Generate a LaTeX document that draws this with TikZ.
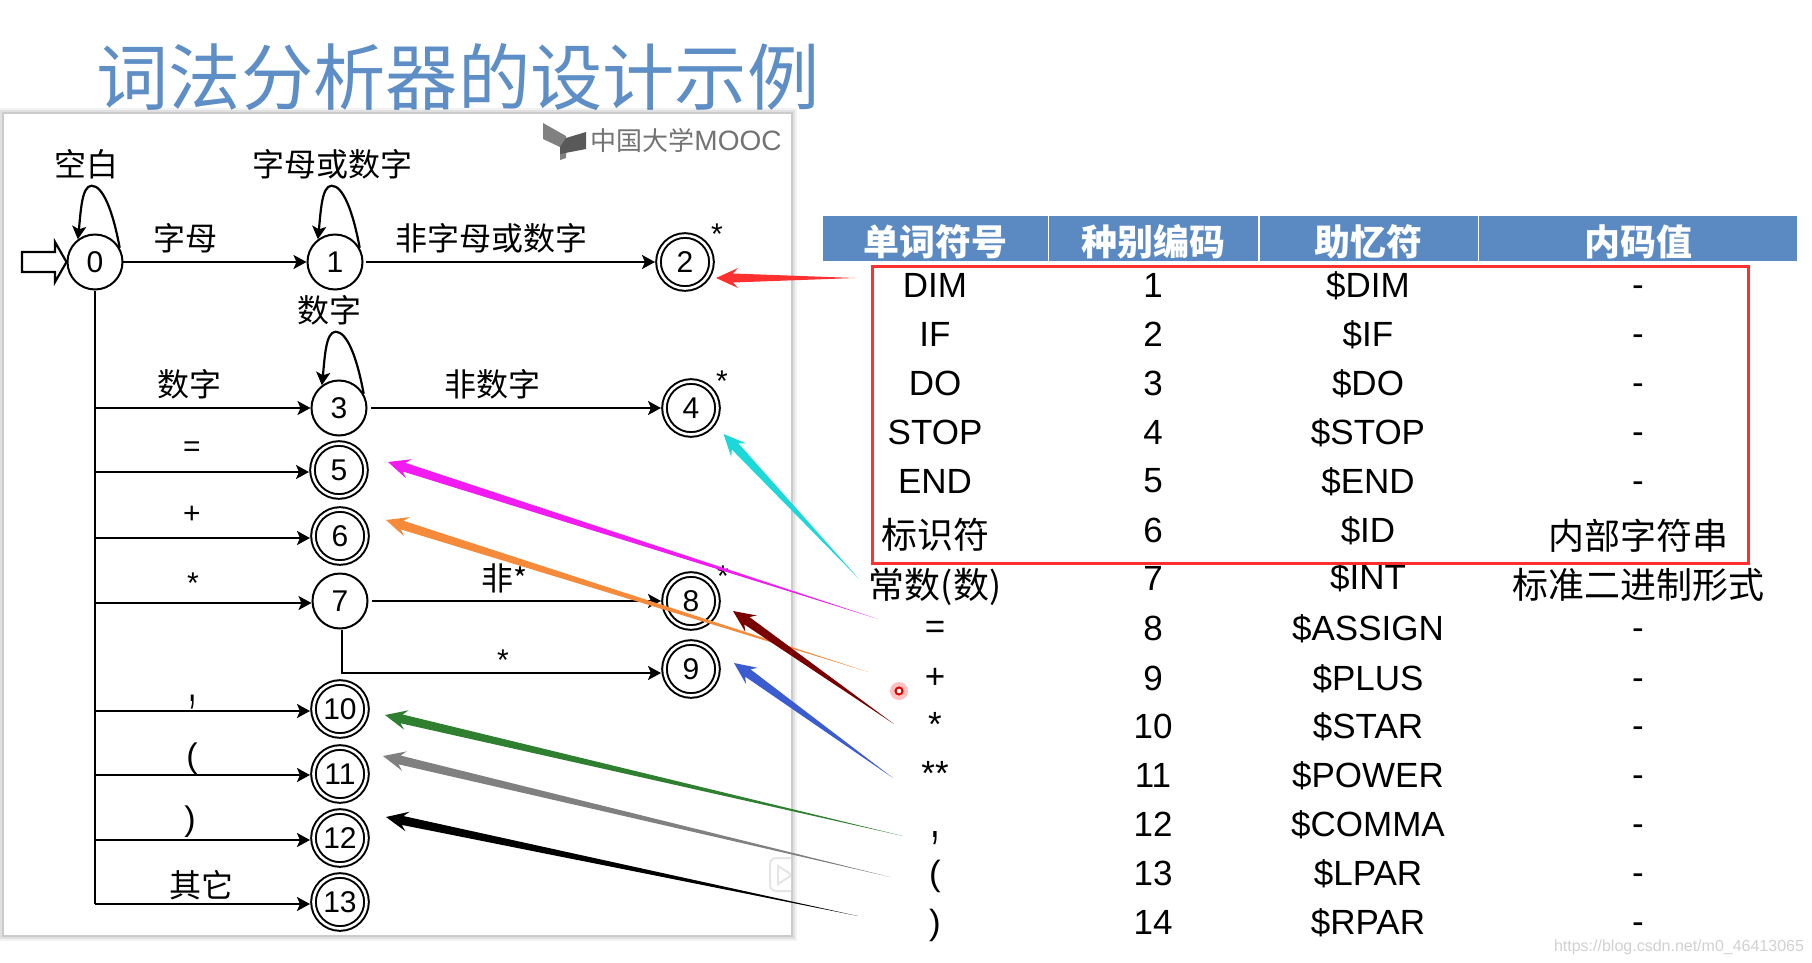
\documentclass[tikz,border=0pt]{standalone}
\usepackage{fontspec}
\setmainfont{Liberation Sans}
\newfontfamily\cjk{Noto Sans CJK SC}
\usetikzlibrary{arrows.meta,calc}
\definecolor{titleblue}{HTML}{5E8EC6}
\definecolor{headblue}{HTML}{5B8AC3}
\definecolor{ptred}{HTML}{FF3030}
\definecolor{ptcyan}{HTML}{1CD8D8}
\definecolor{ptmagenta}{HTML}{F21CF2}
\definecolor{ptorange}{HTML}{F58A3A}
\definecolor{ptmaroon}{HTML}{7A0000}
\definecolor{ptblue}{HTML}{3B5BD0}
\definecolor{ptgreen}{HTML}{2E8030}
\definecolor{ptgray}{HTML}{808080}
\newcommand\fs[1]{\fontsize{#1}{#1}\selectfont}
\newcommand\taper[3]{%
  \fill[#1] (#2) -- ($(#2)!22pt!(#3)!10pt!90:(#3)$) -- ($(#2)!17pt!(#3)!4.5pt!90:(#3)$) -- (#3)
   -- ($(#2)!17pt!(#3)!4.5pt!-90:(#3)$) -- ($(#2)!22pt!(#3)!10pt!-90:(#3)$) -- cycle;}
\newcommand\selfloop[3]{%
  \draw[flow] (#1.#2) .. controls +(-7,-38) and +(11,0) .. ++(-28,-62) .. controls +(-10,0) and +(3,-28) .. (#1.#3);}
\tikzset{
  x=1pt,y=-1pt,
  flow/.style={line width=2.2pt,draw=black,-{Stealth[length=13pt,width=14pt,inset=3pt]}},
  plainline/.style={line width=2.2pt,draw=black},
  st/.style={circle,draw=black,line width=2pt,fill=white,minimum size=55pt,inner sep=0pt,outer sep=1pt,font=\fs{30}},
  fin/.style={st,double,double distance=2.6pt,line width=2pt,minimum size=53pt,outer sep=3.5pt},
  lab/.style={inner sep=0pt,font=\cjk\fs{32},text=black},
  sym/.style={inner sep=0pt,font=\fs{30},text=black},
  cell/.style={inner sep=0pt,font=\fs{35},text=black},
  ccell/.style={inner sep=0pt,font=\cjk\fs{36},text=black},
  head/.style={inner sep=0pt,font=\cjk\bfseries\fs{36},text=white},
}
\begin{document}
\begin{tikzpicture}
\useasboundingbox (0,0) rectangle (1812,963);
\fill[white] (0,0) rectangle (1812,963);
% title
\node[inner sep=0pt,anchor=center,text=titleblue,font=\cjk\fs{72.3}] (title) at (458,77) {词法分析器的设计示例};
% panel with soft shadow
\foreach \d/\o in {6/0.05,4/0.07,2/0.09}{
  \fill[black,opacity=\o] (4-\d,114-\d) rectangle (791+\d,935+\d);
}
\fill[white] (4,114) rectangle (791,935);
% faint player mark
\begin{scope}
  \clip (760,850) rectangle (791,900);
  \draw[black!10,line width=2pt,rounded corners=6pt,fill=white] (770,858) rectangle (810,891);
  \draw[black!10,line width=2pt] (778,866) -- (792,875) -- (778,884) -- cycle;
\end{scope}
% logo
\fill[black!50] (543,123) -- (566,136) -- (566,158) -- (560,160) -- (560,147) -- (543,139) -- cycle;
\fill[black!65] (586,132) -- (566,138) -- (560,147) -- (560,154) -- (586,149) -- cycle;
\node[inner sep=0pt,text=black!55,font=\fs{28}] (logo) at (686,141) {{\cjk\fs{26}中国大学}MOOC};
% states
\node[st] (n0) at (95,262) {0};
\node[st] (n1) at (335,262) {1};
\node[fin] (n2) at (685,262) {2};
\node[st] (n3) at (339,408) {3};
\node[fin] (n4) at (691,408) {4};
\node[fin] (n5) at (339,470) {5};
\node[fin] (n6) at (340,536) {6};
\node[st] (n7) at (340,601) {7};
\node[fin] (n8) at (691,601) {8};
\node[fin] (n9) at (691,669) {9};
\node[fin] (n10) at (340,709) {10};
\node[fin] (n11) at (340,774) {11};
\node[fin] (n12) at (340,838) {12};
\node[fin] (n13) at (340,902) {13};
% start arrow
\coordinate (st0) at (n0.west);
\draw[line width=2.2pt,fill=white] (st0) -- (55,242) -- (55,252) -- (22,252) -- (22,272) -- (55,272) -- (55,282) -- cycle;
% branch heights
\coordinate (b3) at (0,408);
\coordinate (b5) at (0,472);
\coordinate (b6) at (0,538);
\coordinate (b7) at (0,603);
\coordinate (b10) at (0,711);
\coordinate (b11) at (0,775);
\coordinate (b12) at (0,840);
\coordinate (b13) at (0,904);
% connectors
\draw[flow] (n0) ++(27.5,0) -- (n1.west);
\draw[flow] (n1) ++(31,0) -- (n2.west);
\draw[flow] (n3) ++(32,0) -- (n4.west);
\draw[plainline] (n0.south) -- (n0 |- b13);
\foreach \k in {3,5,6,7,10,11,12,13}{
  \draw[flow] (n0 |- b\k) -- (b\k -| n\k.west);
}
\draw[flow] ([xshift=3pt]n7.east) -- (n8.west);
\coordinate (b9) at (0,673);
\draw[flow] ([xshift=2pt]n7.south) -- ([xshift=2pt]n7.south |- b9) -- (b9 -| n9.west);
\selfloop{n0}{30}{127}
\selfloop{n1}{30}{127}
\selfloop{n3}{30}{127}
% DFA labels
\node[lab] (l1) at (86,164) {空白};
\node[lab] (l2) at (332,164) {字母或数字};
\node[lab] (l3) at (185,238) {字母};
\node[lab] (l4) at (491,238) {非字母或数字};
\node[lab] (l5) at (329,310) {数字};
\node[lab] (l6) at (189,384) {数字};
\node[lab] (l7) at (492,384) {非数字};
\node[sym] (l8) at (192,449) {=};
\node[sym] (l9) at (192,515) {+};
\node[sym] (l10) at (193,583) {*};
\node[sym] (l11) at (717,234) {*};
\node[sym] (l12) at (722,381) {*};
\node[lab] (l13) at (504,578) {非{\fs{30}*}};
\node[sym] (l14) at (723,576) {*};
\node[sym] (l15) at (503,660) {*};
\node[sym] (l16) at (193,702) {\scalebox{1}[2]{,}};
\node[sym,font=\fs{34}] (l17) at (192,759) {(};
\node[sym,font=\fs{34}] (l18) at (190,822) {)};
\node[lab] (l19) at (201,885) {其它};
% table header
\fill[headblue] (823,216) rectangle (1797,261);
\draw[white,line width=1.5pt] (1048.5,216) -- (1048.5,261) (1259,216) -- (1259,261) (1478.5,216) -- (1478.5,261);
\node[head] (h1) at (935,242) {单词符号};
\node[head] (h2) at (1153,242) {种别编码};
\node[head] (h3) at (1368,242) {助忆符};
\node[head] (h4) at (1638,242) {内码值};
% table body
\foreach \i/\yc/\yl/\lbl/\mn in {1/285/285/DIM/DIM,2/334/334/IF/IF,3/383/383/DO/DO,4/432/432/STOP/STOP,5/481/481/END/END,8/628/630/{=}/ASSIGN,9/678/678/{+}/PLUS}{
  \node[cell] (a\i) at (935,\yl) {\lbl};
  \node[cell] (b\i) at (1153,\yc) {\i};
  \node[cell] (c\i) at (1368,\yc+1) {\$\mn};
  \node[cell] (d\i) at (1638,\yc+6) {-};
}
\foreach \i/\yc/\mn in {10/726/STAR,11/775/POWER,12/824/COMMA,13/873/LPAR,14/922/RPAR}{
  \node[cell] (b\i) at (1153,\yc) {\i};
  \node[cell] (c\i) at (1368,\yc+1) {\$\mn};
  \node[cell] (d\i) at (1638,\yc+6) {-};
}
\node[ccell] (a6) at (935,535) {标识符};
\node[cell] (b6) at (1153,530) {6};
\node[cell] (c6) at (1368,531) {\$ID};
\node[ccell] (d6) at (1638,536) {内部字符串};
\node[ccell] (a7) at (935,587) {常数(数)};
\node[cell] (b7) at (1153,578) {7};
\node[cell] (c7) at (1368,578) {\$INT};
\node[ccell] (d7) at (1638,585) {标准二进制形式};
\node[cell] (a10) at (935,724) {*};
\node[cell] (a11) at (935,773) {**};
\node[cell] (a12) at (935,838) {\scalebox{1}[1.6]{,}};
\node[cell] (a13) at (935,876) {(};
\node[cell] (a14) at (935,925) {)};
% red frame
\node[draw=ptred,line width=3pt,minimum width=876pt,minimum height=297pt,inner sep=0pt] (frame) at (1310,414.5) {};
% click mark
\fill[red!25] (899,691) circle (9);
\draw[red!85!black,line width=2pt,fill=white] (899,691) circle (3.5);
% watermark
\node[inner sep=0pt,text=black!18,font=\fs{16}] (wm) at (1679,947) {https://blog.csdn.net/m0\_46413065};
% tapered pointers
\coordinate (p1) at (716,278); \coordinate (q1) at (855,278);
\coordinate (p2) at (723.5,434); \coordinate (q2) at (859,579);
\coordinate (p3) at (388,462); \coordinate (q3) at (878,619);
\coordinate (p4) at (386,520); \coordinate (q4) at (868.5,672);
\coordinate (p5) at (733,611); \coordinate (q5) at (894,724);
\coordinate (p6) at (734,663); \coordinate (q6) at (893,778);
\coordinate (p7) at (385,715); \coordinate (q7) at (903,836);
\coordinate (p8) at (383,756); \coordinate (q8) at (890,877);
\coordinate (p9) at (386,817); \coordinate (q9) at (858,916);
\taper{ptred}{p1}{q1}
\taper{ptcyan}{p2}{q2}
\taper{ptmagenta}{p3}{q3}
\taper{ptorange}{p4}{q4}
\taper{ptmaroon}{p5}{q5}
\taper{ptblue}{p6}{q6}
\taper{ptgreen}{p7}{q7}
\taper{ptgray}{p8}{q8}
\taper{black}{p9}{q9}
\end{tikzpicture}
\end{document}
